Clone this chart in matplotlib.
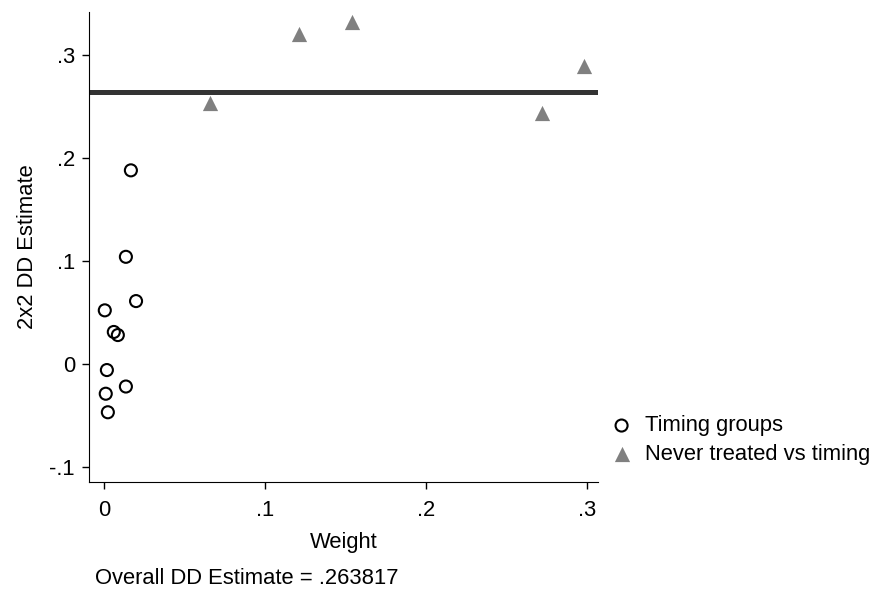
import matplotlib
matplotlib.use("Agg")
from matplotlib import pyplot as plt
from matplotlib.ticker import FuncFormatter

plt.rcParams['font.family'] = ['Liberation Sans', 'DejaVu Sans']

# timing group comparisons
timing_w = [0.0168, 0.0137, 0.0200, 0.0006, 0.0062, 0.0087, 0.0019, 0.0137, 0.0012, 0.0025]
timing_b = [0.188, 0.104, 0.061, 0.052, 0.031, 0.028, -0.006, -0.022, -0.029, -0.047]
# never treated vs timing
never_w = [0.066, 0.121, 0.154, 0.272, 0.298]
never_b = [0.253, 0.320, 0.332, 0.244, 0.289]
overall = 0.263817

def fmt(v, pos):
    s = '%g' % round(v, 6)
    if s.startswith('0.'):
        s = s[1:]
    elif s.startswith('-0.'):
        s = '-' + s[2:]
    return s

fs = 15.8
fig = plt.figure(figsize=(8.71, 5.91), dpi=100)
ax = fig.add_axes([0.102, 0.184, 0.585, 0.796])

ax.scatter(timing_w, timing_b, s=75, facecolors='none', edgecolors='black',
           linewidths=1.5, label='Timing groups', zorder=3)
ax.scatter(never_w, never_b, marker='^', s=120, color='#808080',
           linewidths=0, label='Never treated vs timing', zorder=3)
ax.axhline(overall, color='#333333', lw=3.6, zorder=2)

ax.set_xlim(-0.0093, 0.307)
ax.set_ylim(-0.115, 0.342)
ax.set_xticks([0, 0.1, 0.2, 0.3])
ax.set_yticks([-0.1, 0, 0.1, 0.2, 0.3])
ax.xaxis.set_major_formatter(FuncFormatter(fmt))
ax.yaxis.set_major_formatter(FuncFormatter(fmt))
ax.tick_params(labelsize=fs, length=5, width=1, pad=5)
ax.tick_params(axis='x', pad=8)
ax.spines['top'].set_visible(False)
ax.spines['right'].set_visible(False)
ax.set_xlabel('Weight', fontsize=fs, labelpad=8)
ax.set_ylabel('2x2 DD Estimate', fontsize=fs, labelpad=8)

ax.legend(loc='center left', bbox_to_anchor=(1.024, 0.09), frameon=False,
          fontsize=fs, handlelength=1.0, handletextpad=0.55, labelspacing=0.33,
          borderpad=0, borderaxespad=0)

fig.text(0.109, 0.012, 'Overall DD Estimate = ' + fmt(overall, None), fontsize=fs)

plt.savefig('out.png', dpi=100)
